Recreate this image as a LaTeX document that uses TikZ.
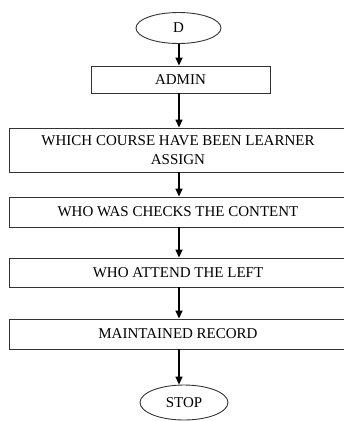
\documentclass[tikz,border=0pt]{standalone}
\usepackage{fontspec}
\setmainfont{Liberation Serif}
\usetikzlibrary{shapes.geometric,arrows.meta}
\begin{document}
\begin{tikzpicture}[x=1pt,y=-1pt,
    stepbox/.style={draw=black!80,line width=0.9pt,rectangle,inner sep=0pt,align=center,font=\fontsize{15}{19}\selectfont},
    term/.style={draw=black!80,line width=0.9pt,ellipse,inner sep=0pt,font=\fontsize{15}{18}\selectfont},
    flow/.style={line width=1.6pt,-{Triangle[width=7pt,length=8pt]}}]
    \useasboundingbox (0,0) rectangle (344,421);
    \coordinate (axis) at (179,0);
    \node[term,minimum width=85pt,minimum height=31pt] (start) at (178.5,28) {D};
    \node[stepbox,minimum width=179pt,minimum height=27pt] (admin) at (180.5,79.5) {ADMIN};
    \node[stepbox,minimum width=338pt,minimum height=44pt] (course) at (178,150) {WHICH COURSE HAVE BEEN LEARNER\\ASSIGN};
    \node[stepbox,minimum width=338pt,minimum height=30pt] (checks) at (178,212) {WHO WAS CHECKS THE CONTENT};
    \node[stepbox,minimum width=338pt,minimum height=29pt] (attend) at (178,272.5) {WHO ATTEND THE LEFT};
    \node[stepbox,minimum width=338pt,minimum height=30pt] (record) at (178,334) {MAINTAINED RECORD};
    \node[term,minimum width=88pt,minimum height=35pt] (stop) at (184,402.5) {STOP};
    \draw[flow] (start.south -| axis) -- (admin.north -| axis);
    \draw[flow] (admin.south -| axis) -- (course.north -| axis);
    \draw[flow] (course.south -| axis) -- (checks.north -| axis);
    \draw[flow] (checks.south -| axis) -- (attend.north -| axis);
    \draw[flow] (attend.south -| axis) -- (record.north -| axis);
    \draw[flow] (record.south -| axis) -- (stop.north -| axis);
\end{tikzpicture}
\end{document}
